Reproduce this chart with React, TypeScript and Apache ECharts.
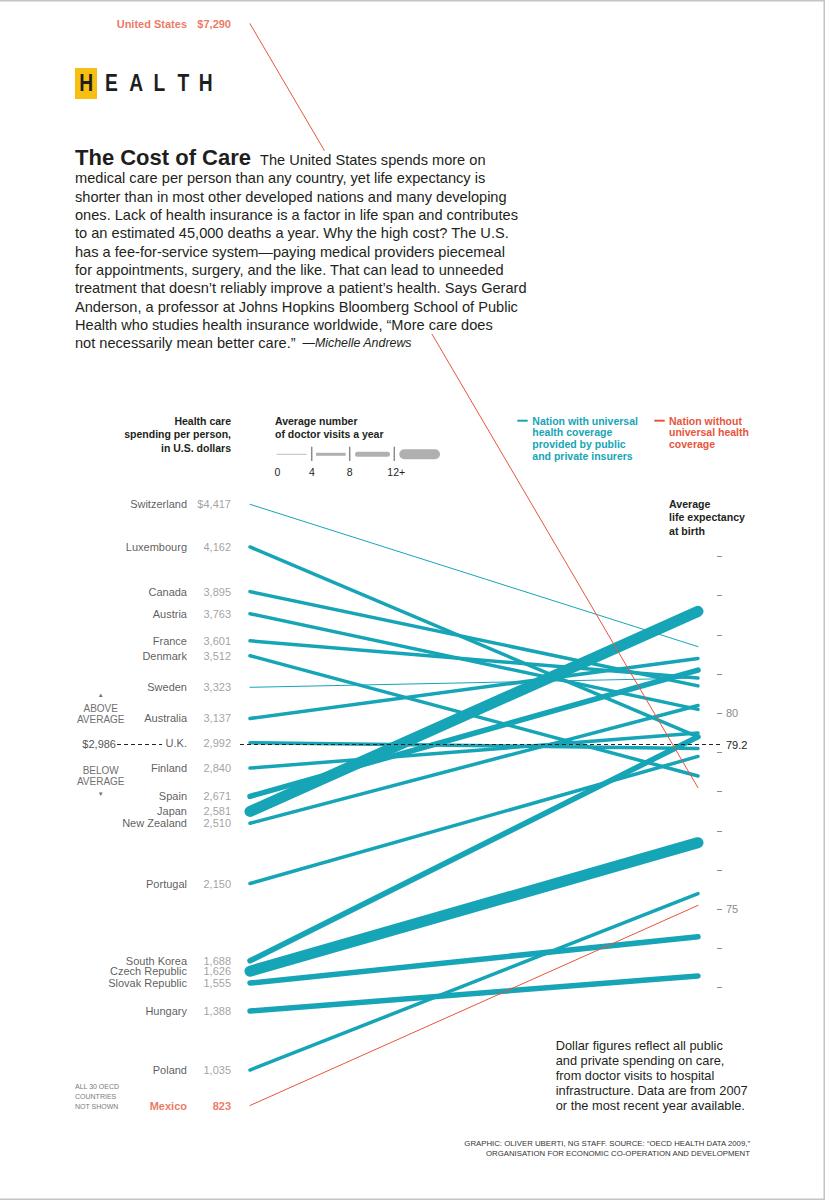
import React, { useEffect, useRef } from "react";
import * as echarts from "echarts";

// ---------- data ----------
const countries = [
  "United States", "Switzerland", "Luxembourg", "Canada", "Austria", "France", "Denmark",
  "Sweden", "Australia", "U.K.", "Finland", "Spain", "Japan", "New Zealand", "Portugal",
  "South Korea", "Czech Republic", "Slovak Republic", "Hungary", "Poland", "Mexico",
];
const spendingUSD = [
  7290, 4417, 4162, 3895, 3763, 3601, 3512, 3323, 3137, 2992, 2840, 2671, 2581, 2510, 2150,
  1688, 1626, 1555, 1388, 1035, 823,
];
const lifeExpectancy = [
  78.1, 81.7, 79.4, 80.7, 80.1, 80.9, 78.4, 80.9, 81.4, 79.1, 79.5, 81.1, 82.6, 80.2, 78.9,
  79.4, 76.7, 74.3, 73.3, 75.4, 75.1,
];
const doctorVisits = [
  3.8, 3.9, 6.1, 5.8, 6.7, 6.3, 7.5, 2.8, 6.1, 5.0, 4.2, 8.1, 13.4, 4.4, 4.1,
  11.8, 12.6, 11.2, 11.8, 6.8, 2.5,
];
const universalCoverage = [
  false, true, true, true, true, true, true, true, true, true, true, true, true, true, true,
  true, true, true, true, true, false,
];
const averageSpending = 2986;
const averageLife = 79.2;
const lifeTickValues = [73, 74, 75, 76, 77, 78, 79, 80, 81, 82, 83, 84];
const lifeLabelValues = [75, 80];
const visitLegendLabels = ["0", "4", "8", "12+"];

// ---------- styling ----------
const FONT = '"Liberation Sans", Arial, Helvetica, sans-serif';
const TEAL = "#15a5b6";
const RED = "#e8553b";
const INK = "#231f20";
const GREY = "#8a8a8a";

// both vertical scales share the same pixel span (top 20 .. 1120)
const SPEND_MIN = 736.4;
const SPEND_MAX = 7312.2;
const LIFE_MIN = 69.625;
const LIFE_MAX = 97.686;
// grid x fractions where the dashed average line breaks around the U.K. labels
const AVG_GAP_START = 0.0744;
const AVG_GAP_END = 0.2033;

const widthFor = (v: number) => (v < 4 ? 1 : v < 8 ? 3.5 : v < 12 ? 5.5 : 11);

const bodyFirst = "The United States spends more on";
const bodyLines = [
  "medical care per person than any country, yet life expectancy is",
  "shorter than in most other developed nations and many developing",
  "ones. Lack of health insurance is a factor in life span and contributes",
  "to an estimated 45,000 deaths a year. Why the high cost? The U.S.",
  "has a fee-for-service system\u2014paying medical providers piecemeal",
  "for appointments, surgery, and the like. That can lead to unneeded",
  "treatment that doesn\u2019t reliably improve a patient\u2019s health. Says Gerard",
  "Anderson, a professor at Johns Hopkins Bloomberg School of Public",
  "Health who studies health insurance worldwide, \u201cMore care does",
];

function txt(x: number, y: number, text: string, st: any = {}, extra: any = {}) {
  return {
    type: "text",
    x,
    y,
    z: 100,
    silent: true,
    ...extra,
    style: {
      text,
      fontFamily: FONT,
      fontSize: 11,
      fill: INK,
      textAlign: "left",
      textVerticalAlign: "middle",
      ...st,
    },
  };
}
function seg(x1: number, y1: number, x2: number, y2: number, stroke: string, lineWidth: number, cap = "butt") {
  return {
    type: "line",
    z: 100,
    silent: true,
    shape: { x1, y1, x2, y2 },
    style: { stroke, lineWidth, lineCap: cap },
  };
}

const hiddenAxisParts = {
  axisLine: { show: false },
  axisTick: { show: false },
  axisLabel: { show: false, color: "rgba(0,0,0,0)", formatter: () => "" },
  splitLine: { show: false },
  nameTextStyle: { color: "rgba(0,0,0,0)" },
};

function buildOption() {
  const idx = countries.map((_, i) => i);
  const lineItem = (i: number) => ({
    name: countries[i],
    value: [spendingUSD[i], lifeExpectancy[i]],
    lineStyle: {
      width: widthFor(doctorVisits[i]),
      color: universalCoverage[i] ? TEAL : RED,
      cap: "round",
      opacity: 1,
    },
  });

  const nameItems = idx.map((i) => {
    const special = !universalCoverage[i];
    return {
      name: countries[i],
      value: [0, spendingUSD[i]],
      label: {
        color: special ? RED : "#333",
        fontWeight: special ? "bold" : "normal",
      },
    };
  });
  const valueItems = idx.map((i) => {
    const special = !universalCoverage[i];
    const txtv = (i < 2 ? "$" : "") + spendingUSD[i].toLocaleString("en-US");
    return {
      name: txtv,
      value: [0, spendingUSD[i]],
      label: {
        color: special ? RED : GREY,
        fontWeight: special ? "bold" : "normal",
      },
    };
  });

  const graphics: any[] = [];
  // page border
  graphics.push(seg(0, 0.75, 825, 0.75, "#c4c4c4", 1.5));
  graphics.push(seg(824.25, 0, 824.25, 1200, "#c4c4c4", 1.5));
  graphics.push(seg(0, 1199.25, 825, 1199.25, "#c4c4c4", 1.5));

  // HEALTH header
  graphics.push({
    type: "rect",
    z: 99,
    silent: true,
    shape: { x: 75, y: 68, width: 22, height: 31 },
    style: { fill: "#f7bf12" },
  });
  const letterX = [86.3, 111.5, 136.2, 159.3, 183.3, 205.8];
  "HEALTH".split("").forEach((ch, k) => {
    graphics.push(
      txt(letterX[k], 83, ch, { fontSize: 24, fontWeight: "bold", textAlign: "center", fill: "#1e1e1e" }, { scaleX: 0.8 })
    );
  });

  // title + body copy (white background masks the US line, as in the print)
  graphics.push(txt(75, 157.3, "The Cost of Care", { fontSize: 22, fontWeight: "bold", fill: "#1e1e1e" }));
  const bodySt = { fontSize: 14.6, lineHeight: 18.33, backgroundColor: "#fff", padding: [0, 2, 0, 2] };
  graphics.push(txt(258, 159.9, bodyFirst, bodySt));
  bodyLines.forEach((line, k) => {
    graphics.push(txt(73, 159.9 + (k + 1) * 18.33, line, bodySt));
  });
  graphics.push(
    txt(75, 159.9 + 10 * 18.33, "{a|not necessarily mean better care.\u201d}{b|  \u2014Michelle Andrews}", {
      rich: {
        a: { fontSize: 14.6, fontFamily: FONT, fill: INK },
        b: { fontSize: 12.4, fontFamily: FONT, fontStyle: "italic", fill: INK },
      },
    })
  );

  // legend: spending header
  graphics.push(
    txt(231, 420.7 - 6.75, "Health care\nspending per person,\nin U.S. dollars", {
      fontSize: 10.5,
      fontWeight: "bold",
      textAlign: "right",
      textVerticalAlign: "top",
      lineHeight: 13.5,
    })
  );
  graphics.push(
    txt(275, 420.7 - 6.75, "Average number\nof doctor visits a year", {
      fontSize: 10.5,
      fontWeight: "bold",
      textVerticalAlign: "top",
      lineHeight: 13.5,
    })
  );
  // doctor-visit width key
  const ky = 454.3;
  graphics.push(seg(276.7, ky, 306.7, ky, "#bdbdbd", 1));
  graphics.push(seg(311.7, 446.7, 311.7, 461, "#8c8c8c", 1.5));
  graphics.push(seg(316, ky, 345.7, ky, "#b0b0b0", 3));
  graphics.push(seg(349.7, 446.7, 349.7, 461, "#8c8c8c", 1.5));
  graphics.push(seg(357.5, ky, 387.5, ky, "#b0b0b0", 5, "round"));
  graphics.push(seg(394.3, 446.7, 394.3, 461, "#8c8c8c", 1.5));
  graphics.push(seg(404.3, ky, 435, ky, "#b0b0b0", 10, "round"));
  const keyX = [277.5, 312, 349.7, 396.2];
  visitLegendLabels.forEach((l, k) => {
    graphics.push(txt(keyX[k], 471.7, l, { fontSize: 10.5, textAlign: "center" }));
  });

  // coverage legend
  graphics.push(seg(517.3, 420.7, 527.7, 420.7, TEAL, 2));
  graphics.push(
    txt(532.3, 420.7 - 5.9, "Nation with universal\nhealth coverage\nprovided by public\nand private insurers", {
      fontSize: 10.5,
      fontWeight: "bold",
      fill: TEAL,
      textVerticalAlign: "top",
      lineHeight: 11.8,
    })
  );
  graphics.push(seg(654.3, 420.7, 664.7, 420.7, RED, 2));
  graphics.push(
    txt(669, 420.7 - 5.9, "Nation without\nuniversal health\ncoverage", {
      fontSize: 10.5,
      fontWeight: "bold",
      fill: RED,
      textVerticalAlign: "top",
      lineHeight: 11.8,
    })
  );
  graphics.push(
    txt(669, 504.3 - 6.6, "Average\nlife expectancy\nat birth", {
      fontSize: 10.6,
      fontWeight: "bold",
      textVerticalAlign: "top",
      lineHeight: 13.2,
    })
  );

  // above / below average
  const ag = { fontSize: 10, fill: "#6f6f6f", textAlign: "center" };
  graphics.push(txt(100.7, 694.7, "\u25B2", { ...ag, fontSize: 6 }));
  graphics.push(txt(100.7, 708.3, "ABOVE", ag));
  graphics.push(txt(100.7, 719.2, "AVERAGE", ag));
  graphics.push(txt(100.7, 770.7, "BELOW", ag));
  graphics.push(txt(100.7, 781.7, "AVERAGE", ag));
  graphics.push(txt(100.7, 794.3, "\u25BC", { ...ag, fontSize: 6 }));

  graphics.push(
    txt(75, 1087 - 4.9, "ALL 30 OECD\nCOUNTRIES\nNOT SHOWN", {
      fontSize: 7,
      fill: "#7a7a7a",
      textVerticalAlign: "top",
      lineHeight: 9.8,
    })
  );

  graphics.push(
    txt(
      555.7,
      1045 - 7.5,
      "Dollar figures reflect all public\nand private spending on care,\nfrom doctor visits to hospital\ninfrastructure. Data are from 2007\nor the most recent year available.",
      { fontSize: 12.8, textVerticalAlign: "top", lineHeight: 15 }
    )
  );
  graphics.push(
    txt(
      750,
      1144 - 4.65,
      "GRAPHIC: OLIVER UBERTI, NG STAFF. SOURCE: \u201cOECD HEALTH DATA 2009,\u201d\nORGANISATION FOR ECONOMIC CO-OPERATION AND DEVELOPMENT",
      { fontSize: 7.8, fill: "#333", textAlign: "right", textVerticalAlign: "top", lineHeight: 9.3 }
    )
  );

  return {
    animation: false,
    backgroundColor: "#ffffff",
    textStyle: { fontFamily: FONT },
    parallel: {
      left: 250,
      right: 127,
      top: 20,
      bottom: 80,
      layout: "horizontal",
      parallelAxisDefault: { ...hiddenAxisParts },
    },
    parallelAxis: [
      { dim: 0, type: "value", min: SPEND_MIN, max: SPEND_MAX, ...hiddenAxisParts },
      { dim: 1, type: "value", min: LIFE_MIN, max: LIFE_MAX, ...hiddenAxisParts },
    ],
    grid: { left: 117, right: 103, top: 20, bottom: 80 },
    xAxis: { type: "value", min: 0, max: 1, show: false },
    yAxis: [
      { type: "value", min: SPEND_MIN, max: SPEND_MAX, show: false },
      {
        type: "value",
        min: LIFE_MIN,
        max: LIFE_MAX,
        position: "right",
        axisLine: { show: false },
        splitLine: { show: false },
        axisTick: {
          show: true,
          inside: true,
          length: 5,
          lineStyle: { color: GREY, width: 1 },
          customValues: lifeTickValues,
        },
        axisLabel: {
          show: true,
          customValues: lifeLabelValues,
          color: GREY,
          fontSize: 11,
          margin: 4,
          fontFamily: FONT,
        },
      },
    ],
    series: [
      {
        type: "parallel",
        parallelIndex: 0,
        z: 2,
        silent: true,
        smooth: false,
        lineStyle: { opacity: 1, width: 1 },
        data: idx.filter((i) => universalCoverage[i]).map(lineItem),
      },
      {
        type: "parallel",
        parallelIndex: 0,
        z: 3,
        silent: true,
        smooth: false,
        lineStyle: { opacity: 1, width: 1 },
        data: idx.filter((i) => !universalCoverage[i]).map(lineItem),
      },
      {
        type: "scatter",
        xAxisIndex: 0,
        yAxisIndex: 1,
        z: 5,
        silent: true,
        symbolSize: 0,
        data: [[0, averageLife]],
        markLine: {
          silent: true,
          symbol: ["none", "none"],
          lineStyle: { type: [4, 3], color: "#222", width: 1 },
          label: {
            show: true,
            position: "end",
            formatter: String(averageLife),
            color: "#222",
            fontSize: 11,
            fontFamily: FONT,
            distance: 4,
          },
          data: [
            [
              { coord: [0, averageLife], label: { show: false } },
              { coord: [AVG_GAP_START, averageLife] },
            ],
            [{ coord: [AVG_GAP_END, averageLife] }, { coord: [1, averageLife] }],
          ],
        },
      },
      {
        type: "scatter",
        xAxisIndex: 0,
        yAxisIndex: 0,
        z: 10,
        silent: true,
        symbolSize: 1,
        itemStyle: { color: "rgba(0,0,0,0)" },
        label: {
          show: true,
          position: [70.5, 0.5],
          align: "right",
          verticalAlign: "middle",
          formatter: (p: any) => p.name,
          fontSize: 11,
          fontFamily: FONT,
        },
        data: nameItems,
      },
      {
        type: "scatter",
        xAxisIndex: 0,
        yAxisIndex: 0,
        z: 10,
        silent: true,
        symbolSize: 1,
        itemStyle: { color: "rgba(0,0,0,0)" },
        label: {
          show: true,
          position: [114.5, 0.5],
          align: "right",
          verticalAlign: "middle",
          formatter: (p: any) => p.name,
          fontSize: 11,
          fontFamily: FONT,
        },
        data: valueItems,
      },
      {
        type: "scatter",
        xAxisIndex: 0,
        yAxisIndex: 0,
        z: 10,
        silent: true,
        symbolSize: 1,
        itemStyle: { color: "rgba(0,0,0,0)" },
        label: {
          show: true,
          position: [-0.5, 0.5],
          align: "right",
          verticalAlign: "middle",
          formatter: (p: any) => p.name,
          fontSize: 11,
          color: "#222",
          fontFamily: FONT,
        },
        data: [{ name: "$" + averageSpending.toLocaleString("en-US"), value: [0, averageSpending] }],
      },
    ],
    graphic: { elements: graphics },
  };
}

export default function App() {
  const ref = useRef<HTMLDivElement>(null);
  useEffect(() => {
    if (!ref.current) return;
    const chart = echarts.init(ref.current, null, { renderer: "svg" });
    chart.setOption(buildOption() as any);
    return () => chart.dispose();
  }, []);
  return (
    <div
      ref={ref}
      style={{ position: "absolute", left: 0, top: 0, width: 825, height: 1200, background: "#fff" }}
    />
  );
}
